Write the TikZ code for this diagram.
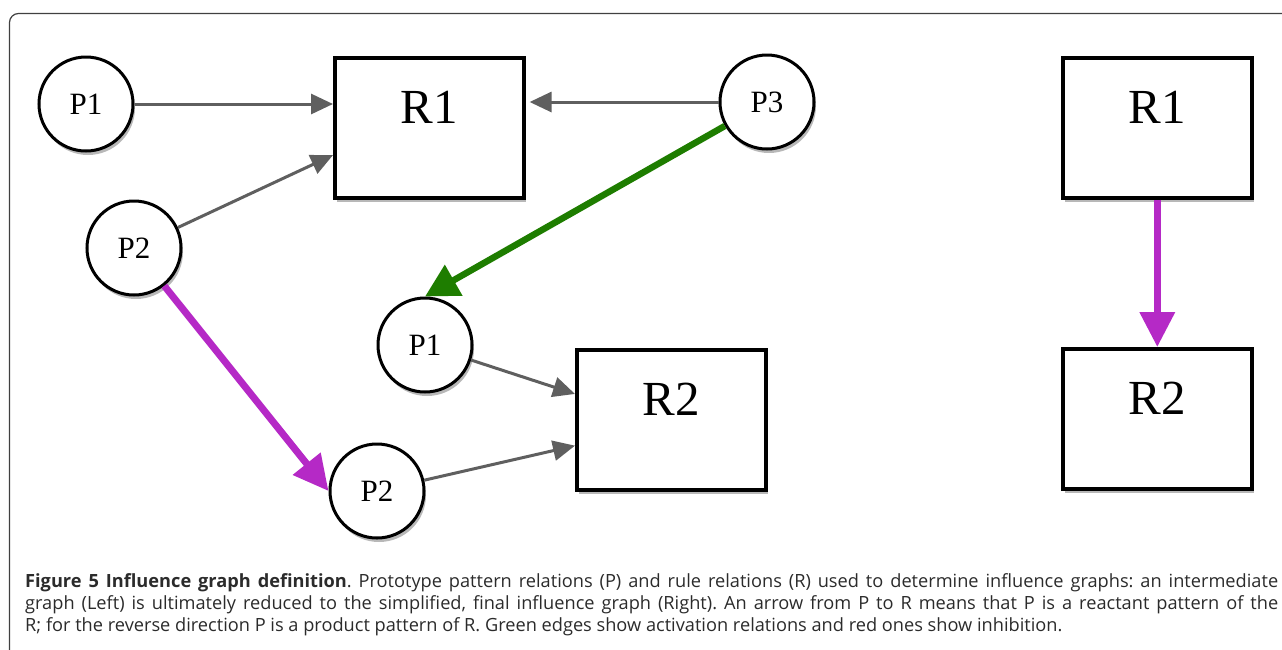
\documentclass[tikz,border=0pt]{standalone}
\usepackage{fontspec}
\setmainfont{Liberation Serif}
\newfontfamily\capfont{Open Sans}
\usetikzlibrary{arrows.meta,shadows,calc}
\definecolor{edgegray}{HTML}{5F5F5F}
\definecolor{actgreen}{HTML}{1E7D00}
\definecolor{inhmag}{HTML}{B529C6}
\definecolor{captext}{HTML}{2B2B2B}
\newcommand\capline[1]{\hbox to 1253pt{\spaceskip=.26em plus 1fil minus .08em\relax #1}}
\tikzset{
  nshadow/.style={drop shadow={shadow xshift=2pt,shadow yshift=-4pt,opacity=.28,fill=black}},
  pnode/.style={circle,draw=black,line width=3pt,fill=white,minimum size=94pt,inner sep=0pt,
    font=\fontsize{31}{31}\selectfont,nshadow},
  rnode/.style={rectangle,draw=black,line width=3.6pt,fill=white,minimum width=189pt,minimum height=140pt,
    inner sep=0pt,text height=66pt,text depth=74pt,anchor=north west,
    font=\fontsize{49}{49}\selectfont,nshadow},
  garrow/.style={draw=edgegray,line width=3pt,-{Triangle[length=22pt,width=20pt]}},
  greenarrow/.style={draw=actgreen,line width=6.5pt,-{Triangle[length=33pt,width=34pt]}},
  magarrow/.style={draw=inhmag,line width=7pt,-{Triangle[length=35pt,width=34pt]}},
}
\begin{document}
\begin{tikzpicture}[x=1pt,y=-1pt]
\useasboundingbox (0,0) rectangle (1282,649);
\begin{scope}
\clip (0,0) rectangle (1282,649);
\draw[line width=1.2pt,black!75,rounded corners=9pt] (9.5,720) -- (9.5,13.5) -- (1320,13.5);
\end{scope}
% left graph
\node[pnode] (P1a) at (86,104) {P1};
\node[pnode] (P2a) at (134,248) {P2};
\node[pnode] (P3) at (767,102) {P3};
\node[pnode] (P1b) at (425,345) {P1};
\node[pnode] (P2b) at (377,491) {P2};
\node[rnode] (R1a) at (333,56) {R1};
\node[rnode] (R2a) at (575,348) {R2};
% right graph
\node[rnode] (R1b) at (1061,56) {R1};
\node[rnode] (R2b) at (1061,347) {R2};
% edges
\draw[garrow] (P1a) -- (P1a -| R1a.west);
\draw[garrow] (P2a) -- ($(R1a.north west)!0.69!(R1a.south west)$);
\draw[garrow,shorten >=4pt] (P3) -- (P3 -| R1a.east);
\draw[garrow] (P1b) -- ($(R2a.north west)!0.32!(R2a.south west)$);
\draw[garrow] (P2b) -- ($(R2a.north west)!0.68!(R2a.south west)$);
\draw[greenarrow] (P3) -- (P1b.north);
\draw[magarrow] (P2a) -- (P2b.west);
\draw[magarrow] (R1b.south) -- (R2b.north);
% caption
\node[anchor=base west,inner sep=0pt,text=captext,
  font=\capfont\fontsize{18.2}{22}\selectfont\frenchspacing] (cap) at (25,587) {\vtop{%
\capline{\textbf{Figure 5 Influence graph definition}. Prototype pattern relations (P) and rule relations (R) used to determine influence graphs: an intermediate}
\capline{graph (Left) is ultimately reduced to the simplified, final influence graph (Right). An arrow from P to R means that P is a reactant pattern of the}
\hbox{R; for the reverse direction P is a product pattern of R. Green edges show activation relations and red ones show inhibition.}}};
\end{tikzpicture}
\end{document}
